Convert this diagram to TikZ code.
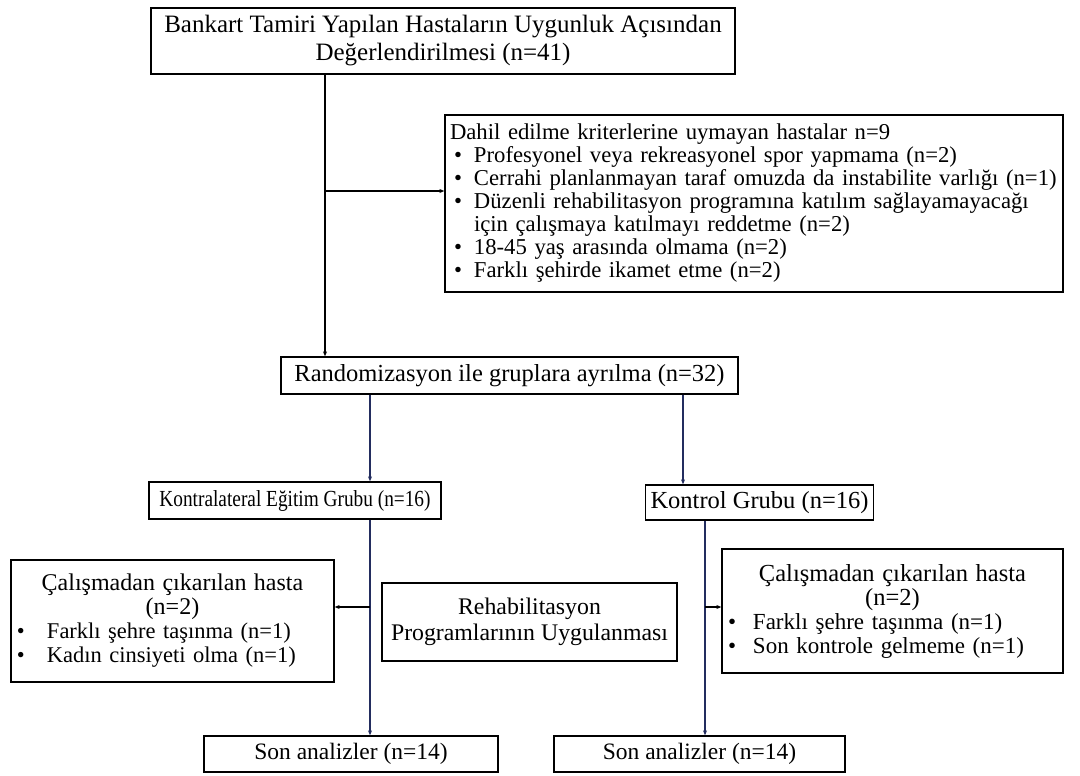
\documentclass[tikz,border=0pt]{standalone}
\usepackage{fontspec}
\usepackage{graphicx}
\setmainfont{Liberation Serif}
\usetikzlibrary{arrows.meta}
\definecolor{flowline}{RGB}{35,45,95}
\newcommand{\blt}[1][30pt]{\makebox[#1][l]{\textbullet}}
\newcommand{\fs}[2]{\fontsize{#1}{#2}\selectfont}

\begin{document}
\begin{tikzpicture}
 [x=1pt,y=-1pt,every node/.style={draw,line width=1.3pt,inner sep=5pt},
  arr/.style={line width=1.1pt,-{Stealth[length=5pt,width=4pt]}}]
  \useasboundingbox (0,0) rectangle (1080,776);

  \node (top)[minimum width=584pt,minimum height=66pt,align=center,font=\fs{25}{28}] at (443,41)
    {Bankart Tamiri Yapılan Hastaların Uygunluk Açısından\\Değerlendirilmesi (n=41)};
  \node (excl)[text width=608pt,minimum height=177pt,align=left,font=\fs{22.7}{23}] at (754,203.5)
    {Dahil edilme kriterlerine uymayan hastalar n=9\\
     \hspace*{4pt}\blt[20pt]Profesyonel veya rekreasyonel spor yapmama (n=2)\\
     \hspace*{4pt}\blt[20pt]Cerrahi planlanmayan taraf omuzda da instabilite varlığı (n=1)\\
     \hspace*{4pt}\blt[20pt]Düzenli rehabilitasyon programına katılım sağlayamayacağı\\
     \hspace*{24pt}için çalışmaya katılmayı reddetme (n=2)\\
     \hspace*{4pt}\blt[20pt]18-45 yaş arasında olmama (n=2)\\
     \hspace*{4pt}\blt[20pt]Farklı şehirde ikamet etme (n=2)};
  \node (rand)[minimum width=457pt,minimum height=37pt,font=\fs{24.5}{28}] at (509.5,375.5)
    {Randomizasyon ile gruplara ayrılma (n=32)};
  \node (kontra)[minimum width=292pt,minimum height=37pt,font=\fs{23}{26}] at (295,500.5)
    {\scalebox{0.84}[1]{Kontralateral Eğitim Grubu (n=16)}};
  \node (kontrol)[minimum width=225pt,minimum height=35pt,font=\fs{24.5}{28}] at (759.5,502.5)
    {Kontrol Grubu (n=16)};
  \node (lexcl)[text width=313pt,minimum height=122pt,font=\fs{22.5}{24}] at (172.5,621)
    {{\centering\fs{24}{24}Çalışmadan çıkarılan hasta\\(n=2)\par}
     \hspace*{1pt}\blt Farklı şehre taşınma (n=1)\\
     \hspace*{1pt}\blt Kadın cinsiyeti olma (n=1)};
  \node (rehab)[minimum width=295pt,minimum height=78pt,align=center,font=\fs{23.8}{26}] at (529.5,622)
    {Rehabilitasyon\\Programlarının Uygulanması};
  \node (rexcl)[text width=331pt,minimum height=124pt,font=\fs{23}{24}] at (892.5,611)
    {{\centering\fs{24.5}{24}Çalışmadan çıkarılan hasta\\(n=2)\par}
     \hspace*{1pt}\blt[25pt]Farklı şehre taşınma (n=1)\\
     \hspace*{1pt}\blt[25pt]Son kontrole gelmeme (n=1)};
  \node (sonl)[minimum width=294pt,minimum height=36pt,font=\fs{23.5}{26}] at (351,754)
    {Son analizler (n=14)};
  \node (sonr)[minimum width=291pt,minimum height=36pt,font=\fs{23.5}{26}] at (699.5,754)
    {Son analizler (n=14)};

  % branch points
  \coordinate (ja) at (325,191);
  \coordinate (jl) at (370,607);
  \coordinate (jk) at (683,440);
  \coordinate (jr) at (705,607);

  \draw[arr] (top.south -| ja) -- (rand.north -| ja);
  \draw[arr] (ja) -- (excl.west |- ja);
  \draw[arr,flowline] (rand.south -| jl) -- (kontra.north -| jl);
  \draw[arr,flowline] (rand.south -| jk) -- (kontrol.north -| jk);
  \draw[arr,flowline] (kontra.south -| jl) -- (sonl.north -| jl);
  \draw[arr,flowline] (kontrol.south -| jr) -- (sonr.north -| jr);
  \foreach \from/\to in {jl/lexcl.east,jr/rexcl.west}
    \draw[arr] (\from) -- (\to |- \from);
\end{tikzpicture}
\end{document}
